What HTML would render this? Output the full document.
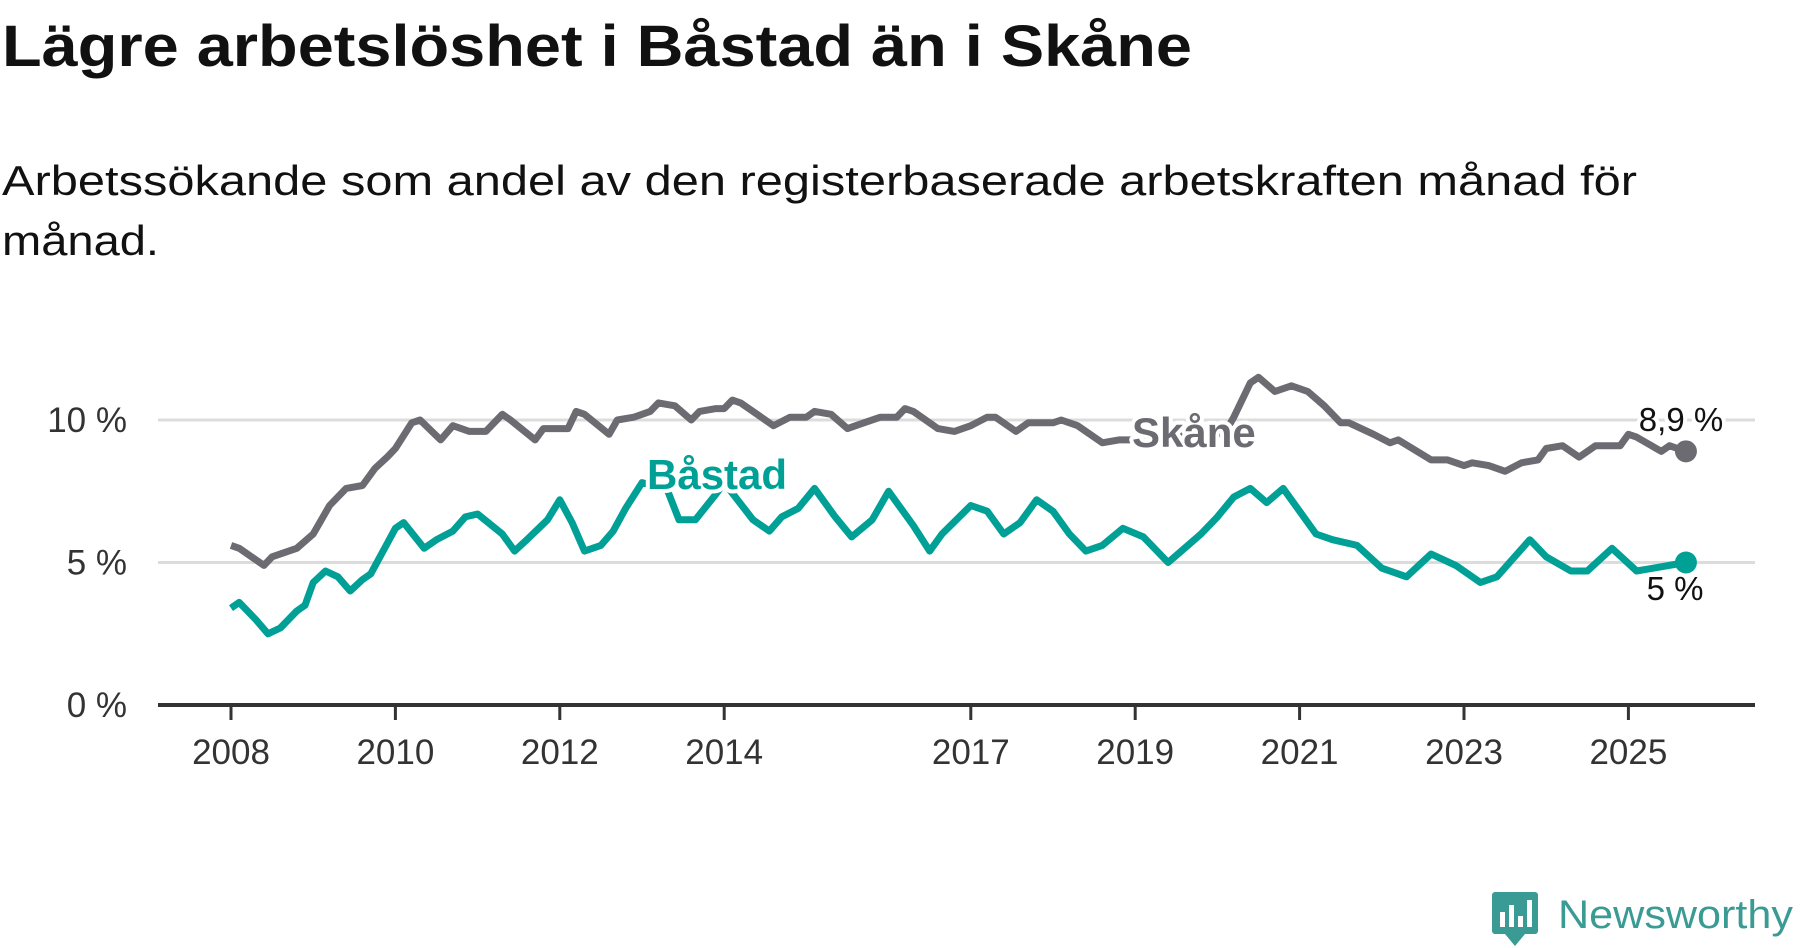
<!DOCTYPE html>
<html><head><meta charset="utf-8"><style>
html,body{margin:0;padding:0;background:#fff;}
svg{display:block;font-family:"Liberation Sans","DejaVu Sans",sans-serif;}
</style></head><body>
<svg id="chart" width="1800" height="948" viewBox="0 0 1800 948">
<text x="2" y="66" font-size="58" font-weight="bold" fill="#111" textLength="1190" lengthAdjust="spacingAndGlyphs">Lägre arbetslöshet i Båstad än i Skåne</text>
<text x="2" y="195" font-size="42" fill="#111" textLength="1635" lengthAdjust="spacingAndGlyphs">Arbetssökande som andel av den registerbaserade arbetskraften månad för</text>
<text x="2" y="255" font-size="42" fill="#111" textLength="157" lengthAdjust="spacingAndGlyphs">månad.</text>
<g id="grid"></g>
<g id="xaxis"></g>
<g id="lines"></g>
<g id="labels"></g>
<g>
<rect x="1492" y="892" width="46" height="42" rx="3" fill="#3a9a94"/>
<polygon points="1505,934 1515,946 1525,934" fill="#3a9a94"/>
<rect x="1500" y="912" width="5" height="15" fill="#fff"/>
<rect x="1509" y="905" width="5" height="22" fill="#fff"/>
<rect x="1518" y="916" width="5" height="11" fill="#fff"/>
<rect x="1527" y="900" width="5" height="27" fill="#fff"/>
<text x="1558" y="928" font-size="40" fill="#3a9a94" textLength="235" lengthAdjust="spacingAndGlyphs">Newsworthy</text>
</g>
</svg>
<script>
const skaneDates=[2008.0,2008.1,2008.4,2008.5,2008.8,2009.0,2009.2,2009.4,2009.6,2009.75,2009.9,2010.0,2010.2,2010.3,2010.55,2010.7,2010.9,2011.1,2011.3,2011.4,2011.7,2011.8,2012.1,2012.2,2012.3,2012.6,2012.7,2012.9,2013.1,2013.2,2013.4,2013.6,2013.7,2013.9,2014.0,2014.1,2014.2,2014.6,2014.8,2015.0,2015.1,2015.3,2015.5,2015.7,2015.9,2016.1,2016.2,2016.3,2016.6,2016.8,2017.0,2017.2,2017.3,2017.55,2017.7,2018.0,2018.1,2018.3,2018.6,2018.8,2019.0,2019.5,2019.9,2020.1,2020.2,2020.4,2020.5,2020.7,2020.9,2021.1,2021.3,2021.5,2021.6,2021.9,2022.1,2022.2,2022.6,2022.8,2023.0,2023.1,2023.3,2023.5,2023.7,2023.9,2024.0,2024.2,2024.4,2024.6,2024.9,2025.0,2025.1,2025.4,2025.5,2025.7];
const skaneValues=[5.6,5.5,4.9,5.2,5.5,6.0,7.0,7.6,7.7,8.3,8.7,9.0,9.9,10.0,9.3,9.8,9.6,9.6,10.2,10.0,9.3,9.7,9.7,10.3,10.2,9.5,10.0,10.1,10.3,10.6,10.5,10.0,10.3,10.4,10.4,10.7,10.6,9.8,10.1,10.1,10.3,10.2,9.7,9.9,10.1,10.1,10.4,10.3,9.7,9.6,9.8,10.1,10.1,9.6,9.9,9.9,10.0,9.8,9.2,9.3,9.3,9.5,9.4,9.6,10.1,11.3,11.5,11.0,11.2,11.0,10.5,9.9,9.9,9.5,9.2,9.3,8.6,8.6,8.4,8.5,8.4,8.2,8.5,8.6,9.0,9.1,8.7,9.1,9.1,9.5,9.4,8.9,9.1,8.9];
const bastadDates=[2008.0,2008.1,2008.3,2008.45,2008.6,2008.8,2008.9,2009.0,2009.15,2009.3,2009.45,2009.6,2009.7,2009.85,2010.0,2010.1,2010.35,2010.5,2010.7,2010.85,2011.0,2011.3,2011.45,2011.6,2011.85,2012.0,2012.15,2012.3,2012.5,2012.65,2012.8,2013.0,2013.3,2013.45,2013.65,2013.9,2014.0,2014.35,2014.55,2014.7,2014.9,2015.1,2015.35,2015.55,2015.8,2016.0,2016.3,2016.5,2016.65,2017.0,2017.2,2017.4,2017.6,2017.8,2018.0,2018.2,2018.4,2018.6,2018.85,2019.1,2019.4,2019.6,2019.8,2020.0,2020.2,2020.4,2020.6,2020.8,2021.2,2021.4,2021.7,2022.0,2022.3,2022.6,2022.9,2023.2,2023.4,2023.8,2024.0,2024.3,2024.5,2024.8,2025.1,2025.3,2025.7];
const bastadValues=[3.4,3.6,3.0,2.5,2.7,3.3,3.5,4.3,4.7,4.5,4.0,4.4,4.6,5.4,6.2,6.4,5.5,5.8,6.1,6.6,6.7,6.0,5.4,5.8,6.5,7.2,6.4,5.4,5.6,6.1,6.9,7.8,7.6,6.5,6.5,7.4,7.8,6.5,6.1,6.6,6.9,7.6,6.6,5.9,6.5,7.5,6.3,5.4,6.0,7.0,6.8,6.0,6.4,7.2,6.8,6.0,5.4,5.6,6.2,5.9,5.0,5.5,6.0,6.6,7.3,7.6,7.1,7.6,6.0,5.8,5.6,4.8,4.5,5.3,4.9,4.3,4.5,5.8,5.2,4.7,4.7,5.5,4.7,4.8,5.0];
const yTicks=[0,5,10];
const yTickLabels=["0 %","5 %","10 %"];
const xTicks=[2008,2010,2012,2014,2017,2019,2021,2023,2025];

const NS="http://www.w3.org/2000/svg";
const X0=158,X1=1755;
function xs(t){return 231+82.2*(t-2008);}
function ys(v){return 705-28.5*v;}
function mk(tag,attrs,parent,text){const e=document.createElementNS(NS,tag);for(const k in attrs)e.setAttribute(k,attrs[k]);if(text!==undefined)e.textContent=text;parent.appendChild(e);return e;}
const grid=document.getElementById('grid'),xa=document.getElementById('xaxis'),lines=document.getElementById('lines'),labels=document.getElementById('labels');
yTicks.forEach((v,i)=>{
  if(v>0){const g=mk('line',{x1:X0,x2:X1,y1:ys(v),y2:ys(v),stroke:'#dcdcdc','stroke-width':3},grid);
  
  }
  const t=mk('text',{x:127,y:ys(v)+12,'text-anchor':'end','font-size':35,fill:'#333'},grid,yTickLabels[i]);
  
  
});
const ax=mk('line',{x1:X0,x2:X1,y1:705,y2:705,stroke:'#333','stroke-width':4},xa);


xTicks.forEach(y=>{
  const tk=mk('line',{x1:xs(y),x2:xs(y),y1:705,y2:720,stroke:'#333','stroke-width':3},xa);
  
  
  const tl=mk('text',{x:xs(y),y:764,'text-anchor':'middle','font-size':35,fill:'#333'},xa,String(y));
  
  
});
function path(d,v){return d.map((t,i)=>(i?'L':'M')+xs(t).toFixed(1)+','+ys(v[i]).toFixed(1)).join('');}
const ps=mk('path',{d:path(skaneDates,skaneValues),fill:'none',stroke:'#6d6b72','stroke-width':7,'stroke-linejoin':'round'},lines);


const pb=mk('path',{d:path(bastadDates,bastadValues),fill:'none',stroke:'#00a096','stroke-width':7,'stroke-linejoin':'round'},lines);


const ls=skaneDates.length-1,lb=bastadDates.length-1;
const ds=mk('circle',{cx:xs(skaneDates[ls]),cy:ys(skaneValues[ls]),r:11,fill:'#6d6b72'},lines);


const db=mk('circle',{cx:xs(bastadDates[lb]),cy:ys(bastadValues[lb]),r:11,fill:'#00a096'},lines);


function lab(x,y,txt,col,size,bold,anchor,name){
  const t=mk('text',{x:x,y:y,fill:col,'font-size':size,'font-weight':bold?'bold':'normal','text-anchor':anchor,stroke:'#fff','stroke-width':8,'paint-order':'stroke','stroke-linejoin':'round'},labels,txt);
  
  
}
lab(1132,447,'Skåne','#6d6b72',42,true,'start','skane-label');
lab(647,489,'Båstad','#00a096',42,true,'start','bastad-label');
lab(1681,431,(String(skaneValues[ls]).replace('.',','))+' %','#111',33,false,'middle','skane-end-value');
lab(1675,600,(String(bastadValues[lb]).replace('.',',').replace(/,0$/,''))+' %','#111',33,false,'middle','bastad-end-value');
</script>
</body></html>
